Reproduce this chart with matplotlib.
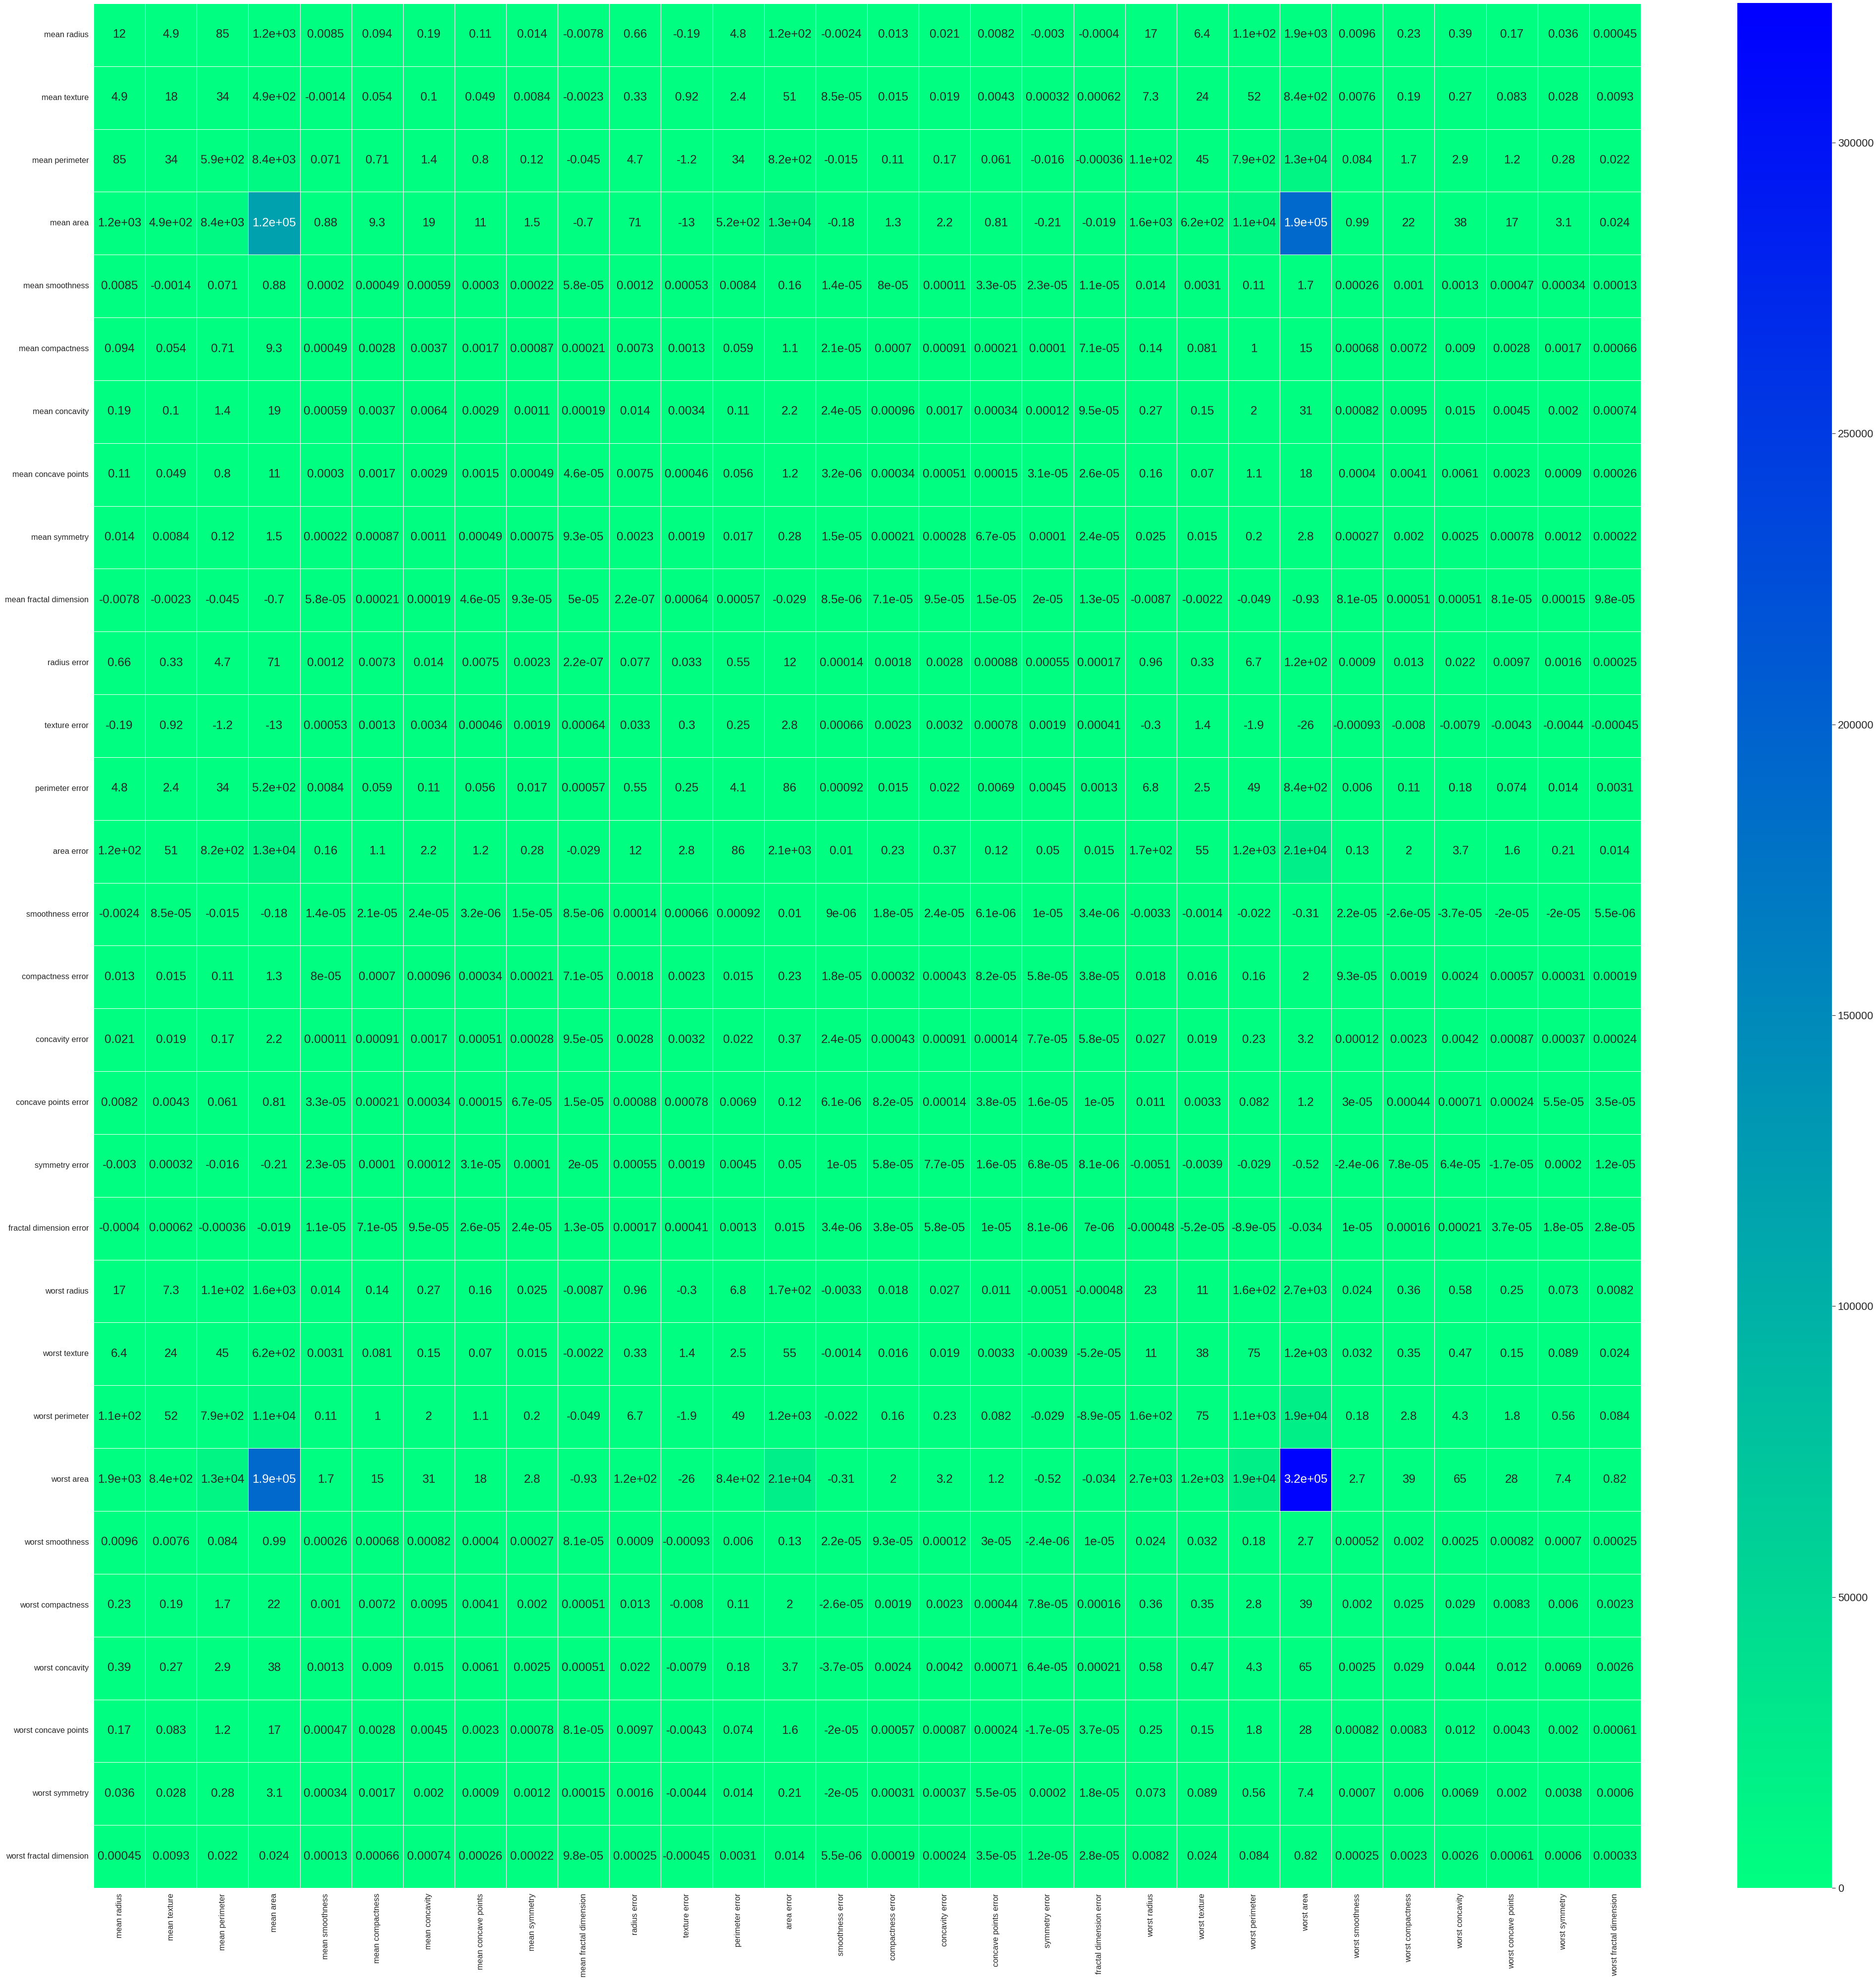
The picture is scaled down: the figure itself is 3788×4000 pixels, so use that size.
import numpy as np
import matplotlib
matplotlib.use("Agg")
import matplotlib.pyplot as plt
import seaborn as sns

features = [
    "mean radius", "mean texture", "mean perimeter", "mean area", "mean smoothness",
    "mean compactness", "mean concavity", "mean concave points", "mean symmetry",
    "mean fractal dimension", "radius error", "texture error", "perimeter error",
    "area error", "smoothness error", "compactness error", "concavity error",
    "concave points error", "symmetry error", "fractal dimension error",
    "worst radius", "worst texture", "worst perimeter", "worst area", "worst smoothness",
    "worst compactness", "worst concavity", "worst concave points", "worst symmetry",
    "worst fractal dimension",
]

# covariance values as printed in the cells (2 significant digits)
cov_rows = [
    [12, 4.9, 85, 1.2e+03, 0.0085, 0.094, 0.19, 0.11, 0.014, -0.0078, 0.66, -0.19, 4.8, 1.2e+02, -0.0024, 0.013, 0.021, 0.0082, -0.003, -0.0004, 17, 6.4, 1.1e+02, 1.9e+03, 0.0096, 0.23, 0.39, 0.17, 0.036, 0.00045],
    [4.9, 18, 34, 4.9e+02, -0.0014, 0.054, 0.1, 0.049, 0.0084, -0.0023, 0.33, 0.92, 2.4, 51, 8.5e-05, 0.015, 0.019, 0.0043, 0.00032, 0.00062, 7.3, 24, 52, 8.4e+02, 0.0076, 0.19, 0.27, 0.083, 0.028, 0.0093],
    [85, 34, 5.9e+02, 8.4e+03, 0.071, 0.71, 1.4, 0.8, 0.12, -0.045, 4.7, -1.2, 34, 8.2e+02, -0.015, 0.11, 0.17, 0.061, -0.016, -0.00036, 1.1e+02, 45, 7.9e+02, 1.3e+04, 0.084, 1.7, 2.9, 1.2, 0.28, 0.022],
    [1.2e+03, 4.9e+02, 8.4e+03, 1.2e+05, 0.88, 9.3, 19, 11, 1.5, -0.7, 71, -13, 5.2e+02, 1.3e+04, -0.18, 1.3, 2.2, 0.81, -0.21, -0.019, 1.6e+03, 6.2e+02, 1.1e+04, 1.9e+05, 0.99, 22, 38, 17, 3.1, 0.024],
    [0.0085, -0.0014, 0.071, 0.88, 0.0002, 0.00049, 0.00059, 0.0003, 0.00022, 5.8e-05, 0.0012, 0.00053, 0.0084, 0.16, 1.4e-05, 8e-05, 0.00011, 3.3e-05, 2.3e-05, 1.1e-05, 0.014, 0.0031, 0.11, 1.7, 0.00026, 0.001, 0.0013, 0.00047, 0.00034, 0.00013],
    [0.094, 0.054, 0.71, 9.3, 0.00049, 0.0028, 0.0037, 0.0017, 0.00087, 0.00021, 0.0073, 0.0013, 0.059, 1.1, 2.1e-05, 0.0007, 0.00091, 0.00021, 0.0001, 7.1e-05, 0.14, 0.081, 1, 15, 0.00068, 0.0072, 0.009, 0.0028, 0.0017, 0.00066],
    [0.19, 0.1, 1.4, 19, 0.00059, 0.0037, 0.0064, 0.0029, 0.0011, 0.00019, 0.014, 0.0034, 0.11, 2.2, 2.4e-05, 0.00096, 0.0017, 0.00034, 0.00012, 9.5e-05, 0.27, 0.15, 2, 31, 0.00082, 0.0095, 0.015, 0.0045, 0.002, 0.00074],
    [0.11, 0.049, 0.8, 11, 0.0003, 0.0017, 0.0029, 0.0015, 0.00049, 4.6e-05, 0.0075, 0.00046, 0.056, 1.2, 3.2e-06, 0.00034, 0.00051, 0.00015, 3.1e-05, 2.6e-05, 0.16, 0.07, 1.1, 18, 0.0004, 0.0041, 0.0061, 0.0023, 0.0009, 0.00026],
    [0.014, 0.0084, 0.12, 1.5, 0.00022, 0.00087, 0.0011, 0.00049, 0.00075, 9.3e-05, 0.0023, 0.0019, 0.017, 0.28, 1.5e-05, 0.00021, 0.00028, 6.7e-05, 0.0001, 2.4e-05, 0.025, 0.015, 0.2, 2.8, 0.00027, 0.002, 0.0025, 0.00078, 0.0012, 0.00022],
    [-0.0078, -0.0023, -0.045, -0.7, 5.8e-05, 0.00021, 0.00019, 4.6e-05, 9.3e-05, 5e-05, 2.2e-07, 0.00064, 0.00057, -0.029, 8.5e-06, 7.1e-05, 9.5e-05, 1.5e-05, 2e-05, 1.3e-05, -0.0087, -0.0022, -0.049, -0.93, 8.1e-05, 0.00051, 0.00051, 8.1e-05, 0.00015, 9.8e-05],
    [0.66, 0.33, 4.7, 71, 0.0012, 0.0073, 0.014, 0.0075, 0.0023, 2.2e-07, 0.077, 0.033, 0.55, 12, 0.00014, 0.0018, 0.0028, 0.00088, 0.00055, 0.00017, 0.96, 0.33, 6.7, 1.2e+02, 0.0009, 0.013, 0.022, 0.0097, 0.0016, 0.00025],
    [-0.19, 0.92, -1.2, -13, 0.00053, 0.0013, 0.0034, 0.00046, 0.0019, 0.00064, 0.033, 0.3, 0.25, 2.8, 0.00066, 0.0023, 0.0032, 0.00078, 0.0019, 0.00041, -0.3, 1.4, -1.9, -26, -0.00093, -0.008, -0.0079, -0.0043, -0.0044, -0.00045],
    [4.8, 2.4, 34, 5.2e+02, 0.0084, 0.059, 0.11, 0.056, 0.017, 0.00057, 0.55, 0.25, 4.1, 86, 0.00092, 0.015, 0.022, 0.0069, 0.0045, 0.0013, 6.8, 2.5, 49, 8.4e+02, 0.006, 0.11, 0.18, 0.074, 0.014, 0.0031],
    [1.2e+02, 51, 8.2e+02, 1.3e+04, 0.16, 1.1, 2.2, 1.2, 0.28, -0.029, 12, 2.8, 86, 2.1e+03, 0.01, 0.23, 0.37, 0.12, 0.05, 0.015, 1.7e+02, 55, 1.2e+03, 2.1e+04, 0.13, 2, 3.7, 1.6, 0.21, 0.014],
    [-0.0024, 8.5e-05, -0.015, -0.18, 1.4e-05, 2.1e-05, 2.4e-05, 3.2e-06, 1.5e-05, 8.5e-06, 0.00014, 0.00066, 0.00092, 0.01, 9e-06, 1.8e-05, 2.4e-05, 6.1e-06, 1e-05, 3.4e-06, -0.0033, -0.0014, -0.022, -0.31, 2.2e-05, -2.6e-05, -3.7e-05, -2e-05, -2e-05, 5.5e-06],
    [0.013, 0.015, 0.11, 1.3, 8e-05, 0.0007, 0.00096, 0.00034, 0.00021, 7.1e-05, 0.0018, 0.0023, 0.015, 0.23, 1.8e-05, 0.00032, 0.00043, 8.2e-05, 5.8e-05, 3.8e-05, 0.018, 0.016, 0.16, 2, 9.3e-05, 0.0019, 0.0024, 0.00057, 0.00031, 0.00019],
    [0.021, 0.019, 0.17, 2.2, 0.00011, 0.00091, 0.0017, 0.00051, 0.00028, 9.5e-05, 0.0028, 0.0032, 0.022, 0.37, 2.4e-05, 0.00043, 0.00091, 0.00014, 7.7e-05, 5.8e-05, 0.027, 0.019, 0.23, 3.2, 0.00012, 0.0023, 0.0042, 0.00087, 0.00037, 0.00024],
    [0.0082, 0.0043, 0.061, 0.81, 3.3e-05, 0.00021, 0.00034, 0.00015, 6.7e-05, 1.5e-05, 0.00088, 0.00078, 0.0069, 0.12, 6.1e-06, 8.2e-05, 0.00014, 3.8e-05, 1.6e-05, 1e-05, 0.011, 0.0033, 0.082, 1.2, 3e-05, 0.00044, 0.00071, 0.00024, 5.5e-05, 3.5e-05],
    [-0.003, 0.00032, -0.016, -0.21, 2.3e-05, 0.0001, 0.00012, 3.1e-05, 0.0001, 2e-05, 0.00055, 0.0019, 0.0045, 0.05, 1e-05, 5.8e-05, 7.7e-05, 1.6e-05, 6.8e-05, 8.1e-06, -0.0051, -0.0039, -0.029, -0.52, -2.4e-06, 7.8e-05, 6.4e-05, -1.7e-05, 0.0002, 1.2e-05],
    [-0.0004, 0.00062, -0.00036, -0.019, 1.1e-05, 7.1e-05, 9.5e-05, 2.6e-05, 2.4e-05, 1.3e-05, 0.00017, 0.00041, 0.0013, 0.015, 3.4e-06, 3.8e-05, 5.8e-05, 1e-05, 8.1e-06, 7e-06, -0.00048, -5.2e-05, -8.9e-05, -0.034, 1e-05, 0.00016, 0.00021, 3.7e-05, 1.8e-05, 2.8e-05],
    [17, 7.3, 1.1e+02, 1.6e+03, 0.014, 0.14, 0.27, 0.16, 0.025, -0.0087, 0.96, -0.3, 6.8, 1.7e+02, -0.0033, 0.018, 0.027, 0.011, -0.0051, -0.00048, 23, 11, 1.6e+02, 2.7e+03, 0.024, 0.36, 0.58, 0.25, 0.073, 0.0082],
    [6.4, 24, 45, 6.2e+02, 0.0031, 0.081, 0.15, 0.07, 0.015, -0.0022, 0.33, 1.4, 2.5, 55, -0.0014, 0.016, 0.019, 0.0033, -0.0039, -5.2e-05, 11, 38, 75, 1.2e+03, 0.032, 0.35, 0.47, 0.15, 0.089, 0.024],
    [1.1e+02, 52, 7.9e+02, 1.1e+04, 0.11, 1, 2, 1.1, 0.2, -0.049, 6.7, -1.9, 49, 1.2e+03, -0.022, 0.16, 0.23, 0.082, -0.029, -8.9e-05, 1.6e+02, 75, 1.1e+03, 1.9e+04, 0.18, 2.8, 4.3, 1.8, 0.56, 0.084],
    [1.9e+03, 8.4e+02, 1.3e+04, 1.9e+05, 1.7, 15, 31, 18, 2.8, -0.93, 1.2e+02, -26, 8.4e+02, 2.1e+04, -0.31, 2, 3.2, 1.2, -0.52, -0.034, 2.7e+03, 1.2e+03, 1.9e+04, 3.2e+05, 2.7, 39, 65, 28, 7.4, 0.82],
    [0.0096, 0.0076, 0.084, 0.99, 0.00026, 0.00068, 0.00082, 0.0004, 0.00027, 8.1e-05, 0.0009, -0.00093, 0.006, 0.13, 2.2e-05, 9.3e-05, 0.00012, 3e-05, -2.4e-06, 1e-05, 0.024, 0.032, 0.18, 2.7, 0.00052, 0.002, 0.0025, 0.00082, 0.0007, 0.00025],
    [0.23, 0.19, 1.7, 22, 0.001, 0.0072, 0.0095, 0.0041, 0.002, 0.00051, 0.013, -0.008, 0.11, 2, -2.6e-05, 0.0019, 0.0023, 0.00044, 7.8e-05, 0.00016, 0.36, 0.35, 2.8, 39, 0.002, 0.025, 0.029, 0.0083, 0.006, 0.0023],
    [0.39, 0.27, 2.9, 38, 0.0013, 0.009, 0.015, 0.0061, 0.0025, 0.00051, 0.022, -0.0079, 0.18, 3.7, -3.7e-05, 0.0024, 0.0042, 0.00071, 6.4e-05, 0.00021, 0.58, 0.47, 4.3, 65, 0.0025, 0.029, 0.044, 0.012, 0.0069, 0.0026],
    [0.17, 0.083, 1.2, 17, 0.00047, 0.0028, 0.0045, 0.0023, 0.00078, 8.1e-05, 0.0097, -0.0043, 0.074, 1.6, -2e-05, 0.00057, 0.00087, 0.00024, -1.7e-05, 3.7e-05, 0.25, 0.15, 1.8, 28, 0.00082, 0.0083, 0.012, 0.0043, 0.002, 0.00061],
    [0.036, 0.028, 0.28, 3.1, 0.00034, 0.0017, 0.002, 0.0009, 0.0012, 0.00015, 0.0016, -0.0044, 0.014, 0.21, -2e-05, 0.00031, 0.00037, 5.5e-05, 0.0002, 1.8e-05, 0.073, 0.089, 0.56, 7.4, 0.0007, 0.006, 0.0069, 0.002, 0.0038, 0.0006],
    [0.00045, 0.0093, 0.022, 0.024, 0.00013, 0.00066, 0.00074, 0.00026, 0.00022, 9.8e-05, 0.00025, -0.00045, 0.0031, 0.014, 5.5e-06, 0.00019, 0.00024, 3.5e-05, 1.2e-05, 2.8e-05, 0.0082, 0.024, 0.084, 0.82, 0.00025, 0.0023, 0.0026, 0.00061, 0.0006, 0.00033],
]

cbar_top = 324000  # top of the colour bar
cbar_ticks = [0, 50000, 100000, 150000, 200000, 250000, 300000]

plt.rcParams['font.family'] = ['Liberation Sans', 'DejaVu Sans']
plt.rcParams['text.color'] = '#262626'
plt.rcParams['xtick.color'] = '#262626'
plt.rcParams['ytick.color'] = '#262626'

W, H = 3788, 4000
fig = plt.figure(figsize=(W / 100, H / 100), dpi=100)
ax = fig.add_axes([189 / W, 1 - 3812 / H, (3313 - 189) / W, (3812 - 7) / H])
cax = fig.add_axes([3508 / W, 1 - 3812 / H, (3699 - 3508) / W, (3812 - 6) / H])

cov = np.array(cov_rows)
sns.heatmap(cov, annot=True, fmt='.2g', cmap='winter_r', linewidths=0.7, linecolor='white',
            vmax=cbar_top, xticklabels=features, yticklabels=features,
            annot_kws={'fontsize': 17.5}, ax=ax, cbar_ax=cax)

ax.tick_params(length=0, labelsize=11.7)
plt.setp(ax.get_xticklabels(), rotation=90)
plt.setp(ax.get_yticklabels(), rotation=0)
ax.tick_params(axis='x', pad=8)
ax.tick_params(axis='y', pad=7)

cax.tick_params(labelsize=15.5, length=5)
cax.set_yticks(cbar_ticks)
cax.set_yticklabels([str(t) for t in cbar_ticks])
cax.set_ylim(0, cbar_top)
for s in cax.spines.values():
    s.set_visible(False)

fig.savefig('out.png', dpi=100)
